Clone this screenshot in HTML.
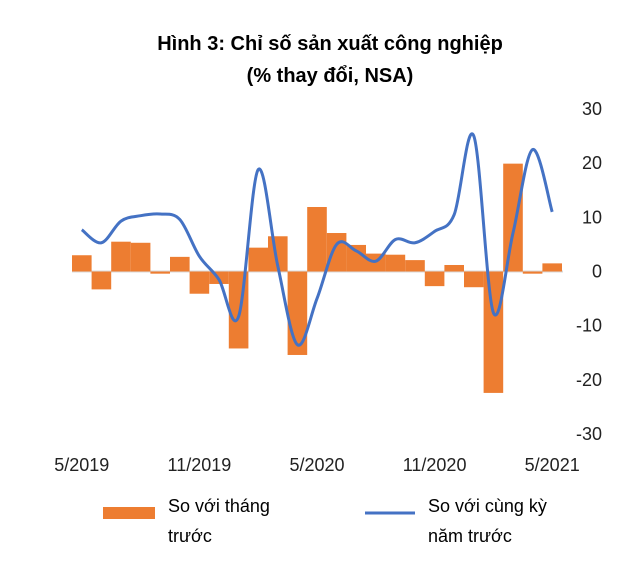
<!DOCTYPE html>
<html><head><meta charset="utf-8"><style>
body{margin:0;background:#fff;width:640px;height:566px;overflow:hidden;font-family:"Liberation Sans",sans-serif}
</style></head><body>
<svg width="640" height="566" xmlns="http://www.w3.org/2000/svg">
<text x="330" y="50" text-anchor="middle" font-size="20" font-weight="bold">Hình 3: Chỉ số sản xuất công nghiệp</text>
<text x="330" y="82" text-anchor="middle" font-size="20" font-weight="bold">(% thay đổi, NSA)</text>
<g id="yaxis"></g><g id="xaxis"></g>
<line x1="72" x2="563" y1="271.5" y2="271.5" stroke="#d9d9d9" stroke-width="2"/>
<g id="bars"></g>
<path id="line" fill="none" stroke="#4472c4" stroke-width="3"/>
<rect x="103" y="507" width="52" height="12" fill="#ed7d31"/>
<text x="168" y="512" font-size="18">So với tháng<tspan x="168" dy="30">trước</tspan></text>
<line x1="365" x2="415" y1="513" y2="513" stroke="#4472c4" stroke-width="3"/>
<text x="428" y="512" font-size="18">So với cùng kỳ<tspan x="428" dy="30">năm trước</tspan></text>
</svg>
<script>
const mom=[3.0,-3.3,5.5,5.3,-0.4,2.7,-4.1,-2.3,-14.2,4.4,6.5,-15.4,11.9,7.1,4.9,3.3,3.1,2.1,-2.7,1.2,-2.9,-22.4,19.9,-0.4,1.5];
const yoy=[7.7,5.3,9.3,10.3,10.6,9.6,2.8,-1.5,-8.3,18.8,1.0,-13.5,-5.0,5.0,3.8,1.9,5.9,5.3,7.4,10.5,25.0,-7.6,7.1,22.5,11.0];
const yTicks=[30,20,10,0,-10,-20,-30];
const xLabels=["5/2019","11/2019","5/2020","11/2020","5/2021"];
const xLabelIdx=[0,6,12,18,24];
const NS="http://www.w3.org/2000/svg";
const y0=271.5,sc=5.42,x0=72,bw=19.6;
const Y=v=>y0-v*sc, X=i=>x0+bw*(i+0.5);
const ya=document.getElementById('yaxis');
yTicks.forEach(t=>{const e=document.createElementNS(NS,'text');e.setAttribute('x',602);e.setAttribute('y',Y(t)+6);e.setAttribute('text-anchor','end');e.setAttribute('font-size','18');e.setAttribute('fill','#222');e.textContent=t;


ya.appendChild(e);});
const xa=document.getElementById('xaxis');
xLabels.forEach((l,k)=>{const e=document.createElementNS(NS,'text');e.setAttribute('x',X(xLabelIdx[k]));e.setAttribute('y',471);e.setAttribute('text-anchor','middle');e.setAttribute('font-size','18');e.setAttribute('fill','#222');e.textContent=l;


xa.appendChild(e);});
const bg=document.getElementById('bars');
mom.forEach((v,i)=>{const r=document.createElementNS(NS,'rect');r.setAttribute('x',x0+bw*i);r.setAttribute('width',bw);r.setAttribute('y',Math.min(Y(v),y0));r.setAttribute('height',Math.max(Math.abs(v*sc),1.5));r.setAttribute('fill','#ed7d31');


bg.appendChild(r);});
const p=yoy.map((v,i)=>[X(i),Y(v)]);
let d=`M${p[0][0]},${p[0][1]}`;
for(let i=0;i<p.length-1;i++){const a=p[Math.max(i-1,0)],b=p[i],c=p[i+1],e=p[Math.min(i+2,p.length-1)];const t=1/6;
d+=` C${b[0]+(c[0]-a[0])*t},${b[1]+(c[1]-a[1])*t} ${c[0]-(e[0]-b[0])*t},${c[1]-(e[1]-b[1])*t} ${c[0]},${c[1]}`;}
document.getElementById('line').setAttribute('d',d);
</script>
</body></html>
